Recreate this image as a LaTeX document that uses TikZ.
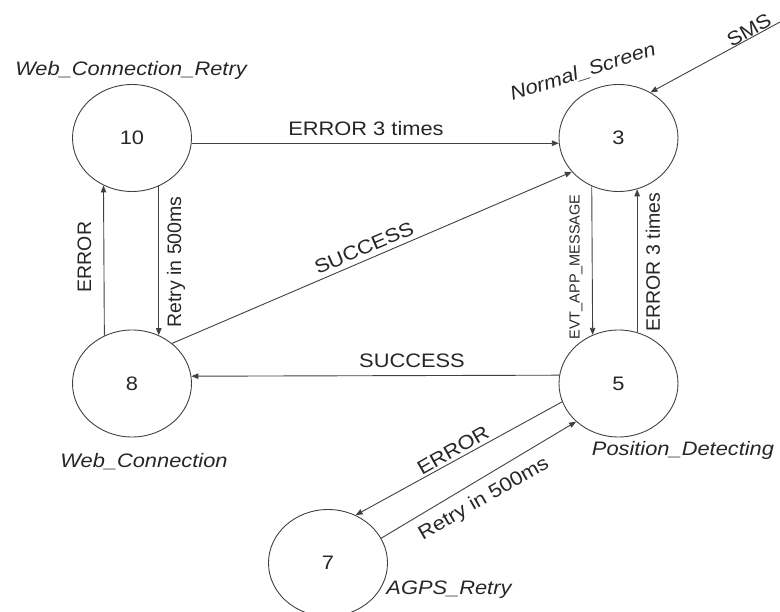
\documentclass[tikz,border=0pt]{standalone}
\usepackage{fontspec}
\setmainfont{Liberation Sans}
\newfontfamily\hs{Liberation Sans}[FakeStretch=1.12]
\usetikzlibrary{shapes.geometric,arrows.meta}
\begin{document}
\begin{tikzpicture}[x=1pt,y=-1pt,
  state/.style={ellipse,draw=black!75,line width=0.9pt,minimum width=119pt,minimum height=107pt,inner sep=0pt,font=\hs\fontsize{19.5}{22}\selectfont,text=black!85},
  edge/.style={draw=black!75,line width=0.9pt,-{Triangle[length=7pt,width=5.5pt]}},
  lbl/.style={font=\hs\fontsize{19.5}{22}\selectfont,text=black!85,inner sep=0pt},
  vlbl/.style={font=\fontsize{19.5}{22}\selectfont,text=black!85,inner sep=0pt,rotate=90},
  slbl/.style={font=\fontsize{14.5}{17}\selectfont,text=black!85,inner sep=0pt,rotate=90},
  ilbl/.style={font=\hs\itshape\fontsize{19.5}{22}\selectfont,text=black!85,inner sep=0pt}]
\useasboundingbox (0,0) rectangle (780,612);

\node[state] (n10) at (132,138) {10};
\node[state] (n3) at (618.5,138) {3};
\node[state] (n8) at (132,383.5) {8};
\node[state] (n5) at (618.5,383.5) {5};
\node[state] (n7) at (328,563) {7};

\draw[edge] (n10.-5.8) -- (n3.185.8);
\draw[edge] (n8.120.7) -- (n10.239.3);
\draw[edge] (n10.-61.6) -- (n8.61.6);
\draw[edge] (n8.45.4) -- (n3.216.8);
\draw[edge] (n5.172.8) -- (n8.7.2);
\draw[edge] (n3.241.05) -- (n5.118.95);
\draw[edge] (n5.70) -- (n3.-70);
\draw[edge] (n5.198.4) -- (n7.60.6);
\draw[edge] (n7.25.7) -- (n5.222.4);
\coordinate (sms) at (780,22);
\draw[edge] (sms) -- (n3.55);

\node[lbl,anchor=base] (l1) at (366,136) {ERROR 3 times};
\node[vlbl] (l2) at (84.5,257) {ERROR};
\node[vlbl] (l3) at (176,262) {Retry in 500ms};
\node[lbl,rotate=23.1] (l4) at (364,248) {SUCCESS};
\node[lbl,anchor=base] (l5) at (412,368) {SUCCESS};
\node[slbl] (l6) at (576,267) {EVT\_APP\_MESSAGE};
\node[vlbl] (l7) at (653,262) {ERROR 3 times};
\node[lbl,rotate=29.7] (l8) at (453,450) {ERROR};
\node[lbl,rotate=30] (l9) at (484,499) {Retry in 500ms};
\node[lbl,rotate=29] (l10) at (749,30) {SMS};

\node[ilbl] (t10) at (131,70) {Web\_Connection\_Retry};
\node[ilbl,rotate=17.8] (t3) at (583,72) {Normal\_Screen};
\node[ilbl] (t8) at (144,462) {Web\_Connection};
\node[ilbl] (t5) at (683,450) {Position\_Detecting};
\node[ilbl] (t7) at (449,590) {AGPS\_Retry};
\end{tikzpicture}
\end{document}
